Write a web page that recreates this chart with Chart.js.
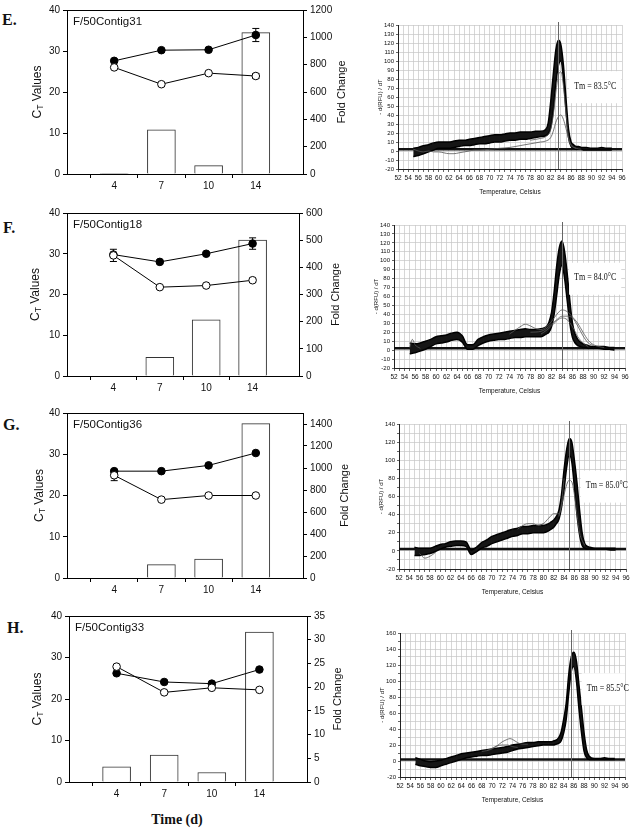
<!DOCTYPE html>
<html>
<head>
<meta charset="utf-8">
<script src="https://cdn.jsdelivr.net/npm/chart.js@4.4.1/dist/chart.umd.min.js"></script>
<style>
  html, body { margin: 0; padding: 0; background: #fff; }
  #page { position: relative; width: 632px; height: 829px; overflow: hidden; background: #fff; }
  canvas { position: absolute; }
  .panel { position: absolute; font: bold 16px/16px "Liberation Serif", "DejaVu Serif", serif; color: #111; }
  #timeTitle { position: absolute; left: 117px; width: 120px; top: 812px; text-align: center;
               font: bold 14px/16px "Liberation Serif", "DejaVu Serif", serif; color: #111; }
</style>
</head>
<body>
<div id="page">
  <div class="panel" style="left:2px;top:12px">E.</div>
  <div class="panel" style="left:3px;top:220px">F.</div>
  <div class="panel" style="left:3px;top:417px">G.</div>
  <div class="panel" style="left:7px;top:620px">H.</div>
  <canvas id="foldE"></canvas><canvas id="meltE"></canvas>
  <canvas id="foldF"></canvas><canvas id="meltF"></canvas>
  <canvas id="foldG"></canvas><canvas id="meltG"></canvas>
  <canvas id="foldH"></canvas><canvas id="meltH"></canvas>
  <div id="timeTitle">Time (d)</div>
</div>
<script>
// ── data: left panels (CT values + fold change) ─────────────────────────────
const days = ['4', '7', '10', '14'];

const eFold      = [4, 324, 61, 1034];
const eFilled    = [27.6, 30.2, 30.3, 33.9];
const eFilledErr = [0, 0, 0, 1.6];
const eOpen      = [26.0, 21.9, 24.6, 23.9];
const eOpenErr   = [0, 0, 0, 0.6];

const fFold      = [0, 69, 207, 500];
const fFilled    = [29.8, 28.0, 30.0, 32.5];
const fFilledErr = [0, 0, 0, 1.4];
const fOpen      = [29.6, 21.8, 22.2, 23.5];
const fOpenErr   = [1.5, 0, 0, 0.5];

const gFold      = [0, 121, 173, 1403];
const gFilled    = [25.9, 25.9, 27.3, 30.3];
const gFilledErr = [0, 0, 0, 0];
const gOpen      = [24.9, 19.0, 20.0, 20.0];
const gOpenErr   = [1.3, 0, 0, 0];

const hFold      = [3.2, 5.7, 2.0, 31.6];
const hFilled    = [26.2, 24.1, 23.7, 27.1];
const hFilledErr = [0, 0, 0, 0];
const hOpen      = [27.8, 21.6, 22.7, 22.2];
const hOpenErr   = [0, 0, 0, 0];

// ── data: melt curves (envelope of the dense trace bundle + stray traces) ────
const meltTemps = [55, 56, 57, 58, 59, 60, 61, 62, 63, 64, 65, 66, 67, 68, 69, 70, 71, 72, 73, 74,
                   75, 76, 77, 78, 79, 80, 81, 81.5, 82, 82.5, 83, 83.5, 84, 84.5, 85, 85.5, 86,
                   86.5, 87, 87.5, 88, 88.5, 89, 90, 91, 92, 93, 94];

const eBandLo = [-6, -5, -3, -1, 1, 3, 3, 3, 4, 5, 6, 6, 7, 8, 8, 9, 10, 10, 11, 12,
                 12, 13, 13, 14, 15, 16, 17, 19, 26, 45, 75, 95, 100, 80, 45, 15, 5,
                 3, 2, 2, 2, 1, 1, 1, 1, 1, 1, 1];
const eBandHi = [3, 4, 6, 7, 9, 10, 10, 10, 11, 12, 12, 13, 14, 15, 16, 17, 18, 18, 19, 20,
                 20, 21, 21, 21, 22, 22, 24, 31, 55, 85, 112, 123, 118, 95, 58, 24, 10,
                 7, 5, 5, 4, 4, 4, 3, 3, 4, 3, 3];
const eStrays = [
  [[55, 2], [56, 0], [57, -1], [58, 0], [59, -1], [60, -1], [61, -2], [62, -3], [63, -3], [64, -2],
   [65, -1], [66, 0], [67, 1], [68, 1], [70, 2], [72, 3], [74, 4], [76, 6], [78, 8], [80, 10],
   [81, 11], [82, 15], [82.5, 22], [83, 32], [83.5, 38], [84, 40], [84.5, 35], [85, 25], [85.5, 14],
   [86, 7], [87, 3], [88, 2]],
  [[78, 12], [80, 14], [81, 16], [82, 24], [82.5, 40], [83, 65], [83.5, 84], [84, 88], [84.5, 72],
   [85, 42], [85.5, 15], [86, 6], [87, 3]],
];

const fBandLo = [-4, -3, -1, 1, 4, 7, 8, 9, 11, 12, 9, 1, 1, 5, 8, 10, 11, 12, 12, 13,
                 14, 14, 15, 15, 15, 15, 18, 20, 26, 40, 62, 85, 95, 80, 55, 30, 14,
                 8, 5, 4, 3, 3, 2, 2, 2, 1, 1, 0];
const fBandHi = [8, 7, 8, 10, 12, 15, 16, 17, 19, 20, 16, 6, 6, 12, 15, 17, 18, 19, 20, 21,
                 22, 23, 24, 23, 23, 24, 26, 31, 42, 65, 95, 115, 122, 110, 85, 55, 30,
                 18, 12, 9, 7, 6, 5, 4, 4, 4, 3, 3];
const fStrays = [
  [[74, 18], [75, 22], [76, 26], [77, 29], [78, 27], [79, 24], [80, 23], [81, 26], [82, 32], [83, 40],
   [84, 45], [85, 43], [86, 37], [87, 30], [88, 20], [89, 11], [90, 6], [91, 4], [92, 3]],
  [[78, 20], [80, 21], [81, 24], [82, 29], [83, 34], [84, 38], [85, 38], [86, 36], [87, 27], [88, 16],
   [89, 8], [90, 5]],
  [[80, 18], [81, 22], [82, 27], [83, 33], [84, 36], [85, 34], [86, 26], [87, 15], [88, 8], [89, 4]],
  [[55, 3], [55.5, 12], [56, 6], [57, 2]],
];

const gBandLo = [-5, -5, -4, -3, -1, 2, 4, 5, 6, 6, 5, -4, -1, 3, 5, 8, 10, 12, 14, 16,
                 17, 19, 19, 20, 20, 20, 22, 24, 26, 30, 35, 48, 68, 92, 106, 98, 70,
                 40, 18, 6, 3, 2, 2, 2, 2, 2, 1, 1];
const gBandHi = [4, 3, 3, 3, 5, 7, 8, 10, 11, 11, 10, 1, 4, 9, 12, 16, 18, 20, 22, 24,
                 25, 27, 27, 28, 28, 28, 30, 32, 34, 38, 45, 62, 90, 112, 124, 120, 100,
                 75, 45, 20, 8, 5, 4, 3, 3, 3, 3, 3];
const gStrays = [
  [[83, 38], [83.5, 50], [84, 62], [84.5, 73], [85, 78], [85.5, 76], [86, 62], [86.5, 40], [87, 20], [88, 6]],
  [[79, 28], [80, 30], [81, 36], [82, 41], [83, 41], [83.5, 52], [84, 80]],
  [[75, 24], [76, 28], [77, 30], [78, 30], [79, 28], [80, 30]],
  [[56, -3], [57, -8], [58, -6], [59, -2]],
];

const hBandLo = [-4, -6, -7, -8, -8, -6, -4, -2, 0, 2, 4, 5, 6, 7, 7, 8, 9, 10, 11, 13,
                 15, 16, 17, 18, 19, 20, 20, 20, 20, 21, 22, 25, 35, 52, 85, 112, 118,
                 100, 65, 35, 12, 4, 2, 2, 2, 2, 2, 2];
const hBandHi = [4, 2, 0, -1, 0, 1, 3, 5, 7, 9, 10, 11, 12, 13, 14, 15, 16, 17, 18, 20,
                 21, 22, 23, 23, 24, 24, 24, 24, 25, 26, 29, 36, 52, 72, 108, 130, 136,
                 125, 95, 65, 35, 14, 6, 3, 3, 4, 3, 3];
const hStrays = [
  [[68, 12], [69, 13], [70, 15], [71, 19], [72, 24], [73, 27], [73.5, 28], [74, 27], [75, 23], [76, 21], [77, 21]],
  [[69, 13], [70, 16], [71, 19], [72, 20], [73, 20], [74, 18], [75, 17]],
];

// ── shared look ─────────────────────────────────────────────────────────────
const SANS   = '"Liberation Sans", Arial, sans-serif';
const NARROW = '"Liberation Sans Narrow", "Liberation Sans", Arial, sans-serif';
const SERIF  = '"Liberation Serif", "Times New Roman", serif';

Chart.defaults.font.family = SANS;
Chart.defaults.color = '#111';

// days sit on slots 1..4 of a 6-slot axis, leaving empty room at both ends
const pad = arr => [null, ...arr, null];
const plain = v => String(v);

function rotatedText(ctx, x, y, draw) {
  ctx.save();
  ctx.translate(x, y);
  ctx.rotate(-Math.PI / 2);
  draw();
  ctx.restore();
}

// ── fold-change panels ──────────────────────────────────────────────────────
const foldDecor = {
  id: 'foldDecor',
  beforeDatasetsDraw(chart) {
    const { ctx, chartArea: a } = chart;
    ctx.save();
    ctx.strokeStyle = '#000';
    ctx.lineWidth = 1;
    ctx.beginPath();
    ctx.moveTo(a.left, a.top + 0.5);
    ctx.lineTo(a.right, a.top + 0.5);
    ctx.stroke();
    ctx.restore();
  },
  beforeDatasetDraw(chart, args) {
    const ds = chart.data.datasets[args.index];
    if (!ds.errors) return;
    const { ctx } = chart;
    const y = chart.scales.y;
    ctx.save();
    ctx.strokeStyle = '#000';
    ctx.lineWidth = 1;
    ds.data.forEach((v, i) => {
      const e = ds.errors[i];
      if (v == null || !e) return;
      const px = args.meta.data[i].x;
      const y0 = y.getPixelForValue(v - e), y1 = y.getPixelForValue(v + e);
      ctx.beginPath();
      ctx.moveTo(px, y0); ctx.lineTo(px, y1);
      ctx.moveTo(px - 3.5, y0); ctx.lineTo(px + 3.5, y0);
      ctx.moveTo(px - 3.5, y1); ctx.lineTo(px + 3.5, y1);
      ctx.stroke();
    });
    ctx.restore();
  },
  afterDraw(chart, args, o) {
    const { ctx, chartArea: a } = chart;
    const cy = (a.top + a.bottom) / 2;
    ctx.save();
    ctx.fillStyle = '#111';
    ctx.textBaseline = 'middle';
    ctx.font = `11.5px ${SANS}`;
    ctx.fillText(o.title, a.left + 6, a.top + 12);

    rotatedText(ctx, o.ctX, cy, () => {
      const big = `12px ${SANS}`, small = `8.5px ${SANS}`;
      ctx.font = big;
      const wC = ctx.measureText('C').width, wV = ctx.measureText(' Values').width;
      ctx.font = small;
      const wT = ctx.measureText('T').width;
      let cx = -(wC + wT + wV) / 2;
      ctx.font = big;   ctx.fillText('C', cx, 0); cx += wC;
      ctx.font = small; ctx.fillText('T', cx, 3); cx += wT;
      ctx.font = big;   ctx.fillText(' Values', cx, 0);
    });
    rotatedText(ctx, o.fcX, cy, () => {
      ctx.font = `11px ${SANS}`;
      ctx.textAlign = 'center';
      ctx.fillText('Fold Change', 0, 0);
    });
    ctx.restore();
  },
};

function buildFoldChart(p) {
  const cv = document.getElementById(p.id);
  cv.width = 360; cv.height = p.h;
  cv.style.left = '0px'; cv.style.top = p.top + 'px';

  const axisLine = { color: '#000', width: 1 };
  const tickFont = { size: 10, family: SANS };

  new Chart(cv, {
    data: {
      labels: ['', ...days, ''],
      datasets: [
        { type: 'line', data: pad(p.open), errors: pad(p.openErr), yAxisID: 'y', order: 0,
          borderColor: '#000', borderWidth: 1, pointRadius: 3.8,
          pointBackgroundColor: '#fff', pointBorderColor: '#000', pointBorderWidth: 1 },
        { type: 'line', data: pad(p.filled), errors: pad(p.filledErr), yAxisID: 'y', order: 1,
          borderColor: '#000', borderWidth: 1, pointRadius: 3.8,
          pointBackgroundColor: '#000', pointBorderColor: '#000', pointBorderWidth: 1 },
        { type: 'bar', data: pad(p.fold), yAxisID: 'y1', order: 2,
          backgroundColor: '#fff', borderColor: '#333', borderWidth: 1, barThickness: 28 },
      ],
    },
    options: {
      responsive: false,
      animation: false,
      devicePixelRatio: 1,
      events: [],
      layout: { padding: { top: p.box.t, left: 0, right: 0, bottom: 0 } },
      plugins: { legend: { display: false }, tooltip: { enabled: false }, foldDecor: p.decor },
      scales: {
        x: {
          type: 'category', offset: false,
          grid: { drawOnChartArea: false, tickLength: 4,
                  tickColor: c => (c.index === 0 || c.index === 5) ? 'rgba(0,0,0,0)' : '#000' },
          border: axisLine,
          ticks: { autoSkip: false, maxRotation: 0, font: tickFont, color: '#111', padding: 2 },
          afterFit: s => { s.height = p.h - p.box.b; },
        },
        y: {
          position: 'left', min: 0, max: 40,
          ticks: { stepSize: 10, autoSkip: false, font: tickFont, color: '#111', padding: 3, callback: plain },
          grid: { drawOnChartArea: false, tickLength: 4, tickColor: '#000' },
          border: axisLine,
          afterFit: s => { s.width = p.box.l; },
        },
        y1: {
          position: 'right', min: 0, max: p.foldMax,
          ticks: { stepSize: p.foldStep, includeBounds: false, autoSkip: false,
                   font: tickFont, color: '#111', padding: 3, callback: plain },
          grid: { drawOnChartArea: false, tickLength: 4, tickColor: '#000' },
          border: axisLine,
          afterFit: s => { s.width = 360 - p.box.r; },
        },
      },
    },
    plugins: [foldDecor],
  });
}

// ── melt-curve panels ───────────────────────────────────────────────────────
const meltDecor = {
  id: 'meltDecor',
  beforeDatasetsDraw(chart, args, o) {
    const { ctx, chartArea: a, scales: { y } } = chart;
    const yb = y.getPixelForValue(o.threshold);
    ctx.save();
    ctx.strokeStyle = '#111';
    ctx.lineWidth = 2.5;
    ctx.beginPath();
    ctx.moveTo(a.left, yb); ctx.lineTo(a.right, yb);
    ctx.stroke();
    ctx.restore();
  },
  afterDatasetsDraw(chart, args, o) {
    const { ctx, chartArea: a, scales: { x, y } } = chart;
    ctx.save();
    const xt = Math.round(x.getPixelForValue(o.tm)) + 0.5;
    ctx.strokeStyle = '#666';
    ctx.lineWidth = 1;
    ctx.beginPath();
    ctx.moveTo(xt, a.top - 3); ctx.lineTo(xt, a.bottom);
    ctx.stroke();

    // Tm label: narrow serif on a white patch that hides the grid
    const label = `Tm = ${o.tm.toFixed(1)}°C`;
    const squeeze = 0.8;
    ctx.font = `10px ${SERIF}`;
    const w = ctx.measureText(label).width * squeeze;
    const lx = x.getPixelForValue(o.labelAt[0]), ly = y.getPixelForValue(o.labelAt[1]);
    ctx.fillStyle = '#fff';
    ctx.fillRect(lx - 5, ly - 15, Math.min(w + 10, a.right - lx + 5), 32);
    ctx.fillStyle = '#111';
    ctx.textBaseline = 'middle';
    ctx.save();
    ctx.translate(lx, ly);
    ctx.scale(squeeze, 1);
    ctx.fillText(label, 0, 0);
    ctx.restore();

    ctx.font = `6.5px ${NARROW}`;
    ctx.textAlign = 'center';
    ctx.fillText('Temperature, Celsius', (a.left + a.right) / 2, a.bottom + 23);
    rotatedText(ctx, a.left - 18, (a.top + a.bottom) / 2, () => {
      ctx.font = `6px ${NARROW}`;
      ctx.fillText('- d(RFU) / dT', 0, 0);
    });
    ctx.restore();
  },
};

function buildMeltChart(p) {
  const cv = document.getElementById(p.id);
  cv.width = 272; cv.height = p.h;
  cv.style.left = '360px'; cv.style.top = p.top + 'px';

  const curve = { pointRadius: 0, cubicInterpolationMode: 'monotone' };
  const datasets = [
    { ...curve, data: p.lo.map((v, i) => ({ x: meltTemps[i], y: v })),
      borderColor: '#000', borderWidth: 1.5, order: 2 },
    { ...curve, data: p.hi.map((v, i) => ({ x: meltTemps[i], y: v })),
      borderColor: '#000', borderWidth: 1.5, fill: '-1', backgroundColor: '#151515', order: 2 },
    ...p.strays.map(s => ({ ...curve, data: s.map(([x, y]) => ({ x, y })),
      borderColor: '#555', borderWidth: 0.8, fill: false, order: 1 })),
  ];
  const grid = { color: '#c6c6c6', lineWidth: 0.7, tickColor: '#222' };

  new Chart(cv, {
    type: 'line',
    data: { datasets },
    options: {
      responsive: false,
      animation: false,
      devicePixelRatio: 1,
      events: [],
      layout: { padding: { top: p.box.t, left: 0, right: 272 - p.box.r, bottom: 0 } },
      plugins: { legend: { display: false }, tooltip: { enabled: false }, meltDecor: p.decor },
      scales: {
        x: {
          type: 'linear', min: 52, max: 96,
          ticks: { stepSize: 1, autoSkip: false, maxRotation: 0, padding: 2,
                   font: { size: 6.5, family: NARROW }, color: '#111',
                   callback: v => (v % 2 === 0 ? String(v) : '') },
          grid: { ...grid, tickLength: 3 },
          border: { color: '#222', width: 1 },
          afterFit: s => { s.height = p.h - p.box.b; },
        },
        y: {
          min: p.yMin, max: p.yMax,
          ticks: { stepSize: 10, autoSkip: false, padding: 2,
                   font: { size: 6, family: NARROW }, color: '#111',
                   callback: v => (v % p.yLabelStep === 0 ? String(v) : '') },
          grid: { ...grid, tickLength: 2 },
          border: { color: '#222', width: 1 },
          afterFit: s => { s.width = p.box.l; },
        },
      },
    },
    plugins: [meltDecor],
  });
}

// ── panels ──────────────────────────────────────────────────────────────────
buildFoldChart({ id: 'foldE', top: 0, h: 200, box: { l: 67, r: 303, t: 10, b: 174 },
  fold: eFold, filled: eFilled, filledErr: eFilledErr, open: eOpen, openErr: eOpenErr,
  foldMax: 1200, foldStep: 200, decor: { title: 'F/50Contig31', ctX: 38, fcX: 342 } });
buildFoldChart({ id: 'foldF', top: 200, h: 195, box: { l: 67, r: 299, t: 13, b: 176 },
  fold: fFold, filled: fFilled, filledErr: fFilledErr, open: fOpen, openErr: fOpenErr,
  foldMax: 600, foldStep: 100, decor: { title: 'F/50Contig18', ctX: 36, fcX: 336 } });
buildFoldChart({ id: 'foldG', top: 395, h: 205, box: { l: 67, r: 303, t: 18, b: 183 },
  fold: gFold, filled: gFilled, filledErr: gFilledErr, open: gOpen, openErr: gOpenErr,
  foldMax: 1500, foldStep: 200, decor: { title: 'F/50Contig36', ctX: 40, fcX: 345 } });
buildFoldChart({ id: 'foldH', top: 600, h: 205, box: { l: 69, r: 307, t: 16, b: 182 },
  fold: hFold, filled: hFilled, filledErr: hFilledErr, open: hOpen, openErr: hOpenErr,
  foldMax: 35, foldStep: 5, decor: { title: 'F/50Contig33', ctX: 38, fcX: 338 } });

buildMeltChart({ id: 'meltE', top: 0, h: 200, box: { l: 38, r: 262, t: 25, b: 169 },
  lo: eBandLo, hi: eBandHi, strays: eStrays, yMin: -20, yMax: 140, yLabelStep: 10,
  decor: { tm: 83.5, threshold: 2, labelAt: [86.6, 72] } });
buildMeltChart({ id: 'meltF', top: 200, h: 200, box: { l: 34, r: 265, t: 25, b: 168 },
  lo: fBandLo, hi: fBandHi, strays: fStrays, yMin: -20, yMax: 140, yLabelStep: 10,
  decor: { tm: 84.0, threshold: 2, labelAt: [86.3, 81] } });
buildMeltChart({ id: 'meltG', top: 400, h: 200, box: { l: 39, r: 266, t: 24, b: 169 },
  lo: gBandLo, hi: gBandHi, strays: gStrays, yMin: -20, yMax: 140, yLabelStep: 20,
  decor: { tm: 85.0, threshold: 2, labelAt: [88.2, 72] } });
buildMeltChart({ id: 'meltH', top: 600, h: 205, box: { l: 40, r: 265, t: 33, b: 177 },
  lo: hBandLo, hi: hBandHi, strays: hStrays, yMin: -20, yMax: 160, yLabelStep: 20,
  decor: { tm: 85.5, threshold: 2, labelAt: [88.5, 91] } });
</script>
</body>
</html>
